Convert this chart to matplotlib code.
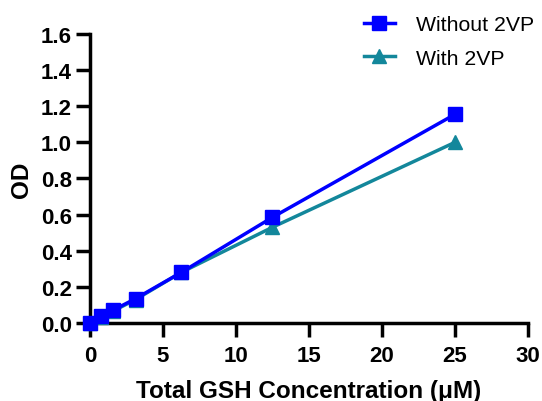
import matplotlib
matplotlib.use("Agg")
import matplotlib.pyplot as plt

plt.rcParams["font.family"] = ["Liberation Sans", "DejaVu Sans"]

# Data
conc = [0, 0.78, 1.56, 3.125, 6.25, 12.5, 25]
od_without = [0.0, 0.04, 0.07, 0.135, 0.28, 0.585, 1.155]
od_with = [0.0, 0.035, 0.065, 0.13, 0.28, 0.53, 1.0]

blue = "#0000ff"
teal = "#13879b"

fig = plt.figure(figsize=(5.42, 4.02), dpi=100)
ax = fig.add_axes([0.166, 0.194, 0.808, 0.719])

(l2,) = ax.plot(conc, od_with, "-^", color=teal, lw=2.5, ms=10, clip_on=False,
                label="With 2VP", zorder=3)
(l1,) = ax.plot(conc, od_without, "-s", color=blue, lw=2.5, ms=9.5, clip_on=False,
                label="Without 2VP", zorder=4)

ax.set_xlim(0, 30)
ax.set_ylim(0, 1.6)
ax.set_xticks(range(0, 31, 5))
ax.set_yticks([0, 0.2, 0.4, 0.6, 0.8, 1.0, 1.2, 1.4, 1.6])
ax.set_yticklabels(["0.0", "0.2", "0.4", "0.6", "0.8", "1.0", "1.2", "1.4", "1.6"])

for s in ["top", "right"]:
    ax.spines[s].set_visible(False)
for s in ["left", "bottom"]:
    ax.spines[s].set_linewidth(2.5)
ax.tick_params(width=2.5, length=10, labelsize=16)
ax.tick_params(axis="x", pad=6)
ax.tick_params(axis="y", pad=3)
for lab in ax.get_xticklabels() + ax.get_yticklabels():
    lab.set_fontweight("bold")

ax.set_xlabel("Total GSH Concentration (μM)", fontsize=17.5, fontweight="bold", labelpad=9)
ax.set_ylabel("OD", fontsize=17.5, fontweight="bold", labelpad=6)

fig.legend(handles=[l1, l2], loc="upper right", bbox_to_anchor=(1.02, 1.007),
           frameon=False, fontsize=15.3, handlelength=1.5, handletextpad=0.95,
           labelspacing=0.68)

fig.savefig("out.png", dpi=100)
